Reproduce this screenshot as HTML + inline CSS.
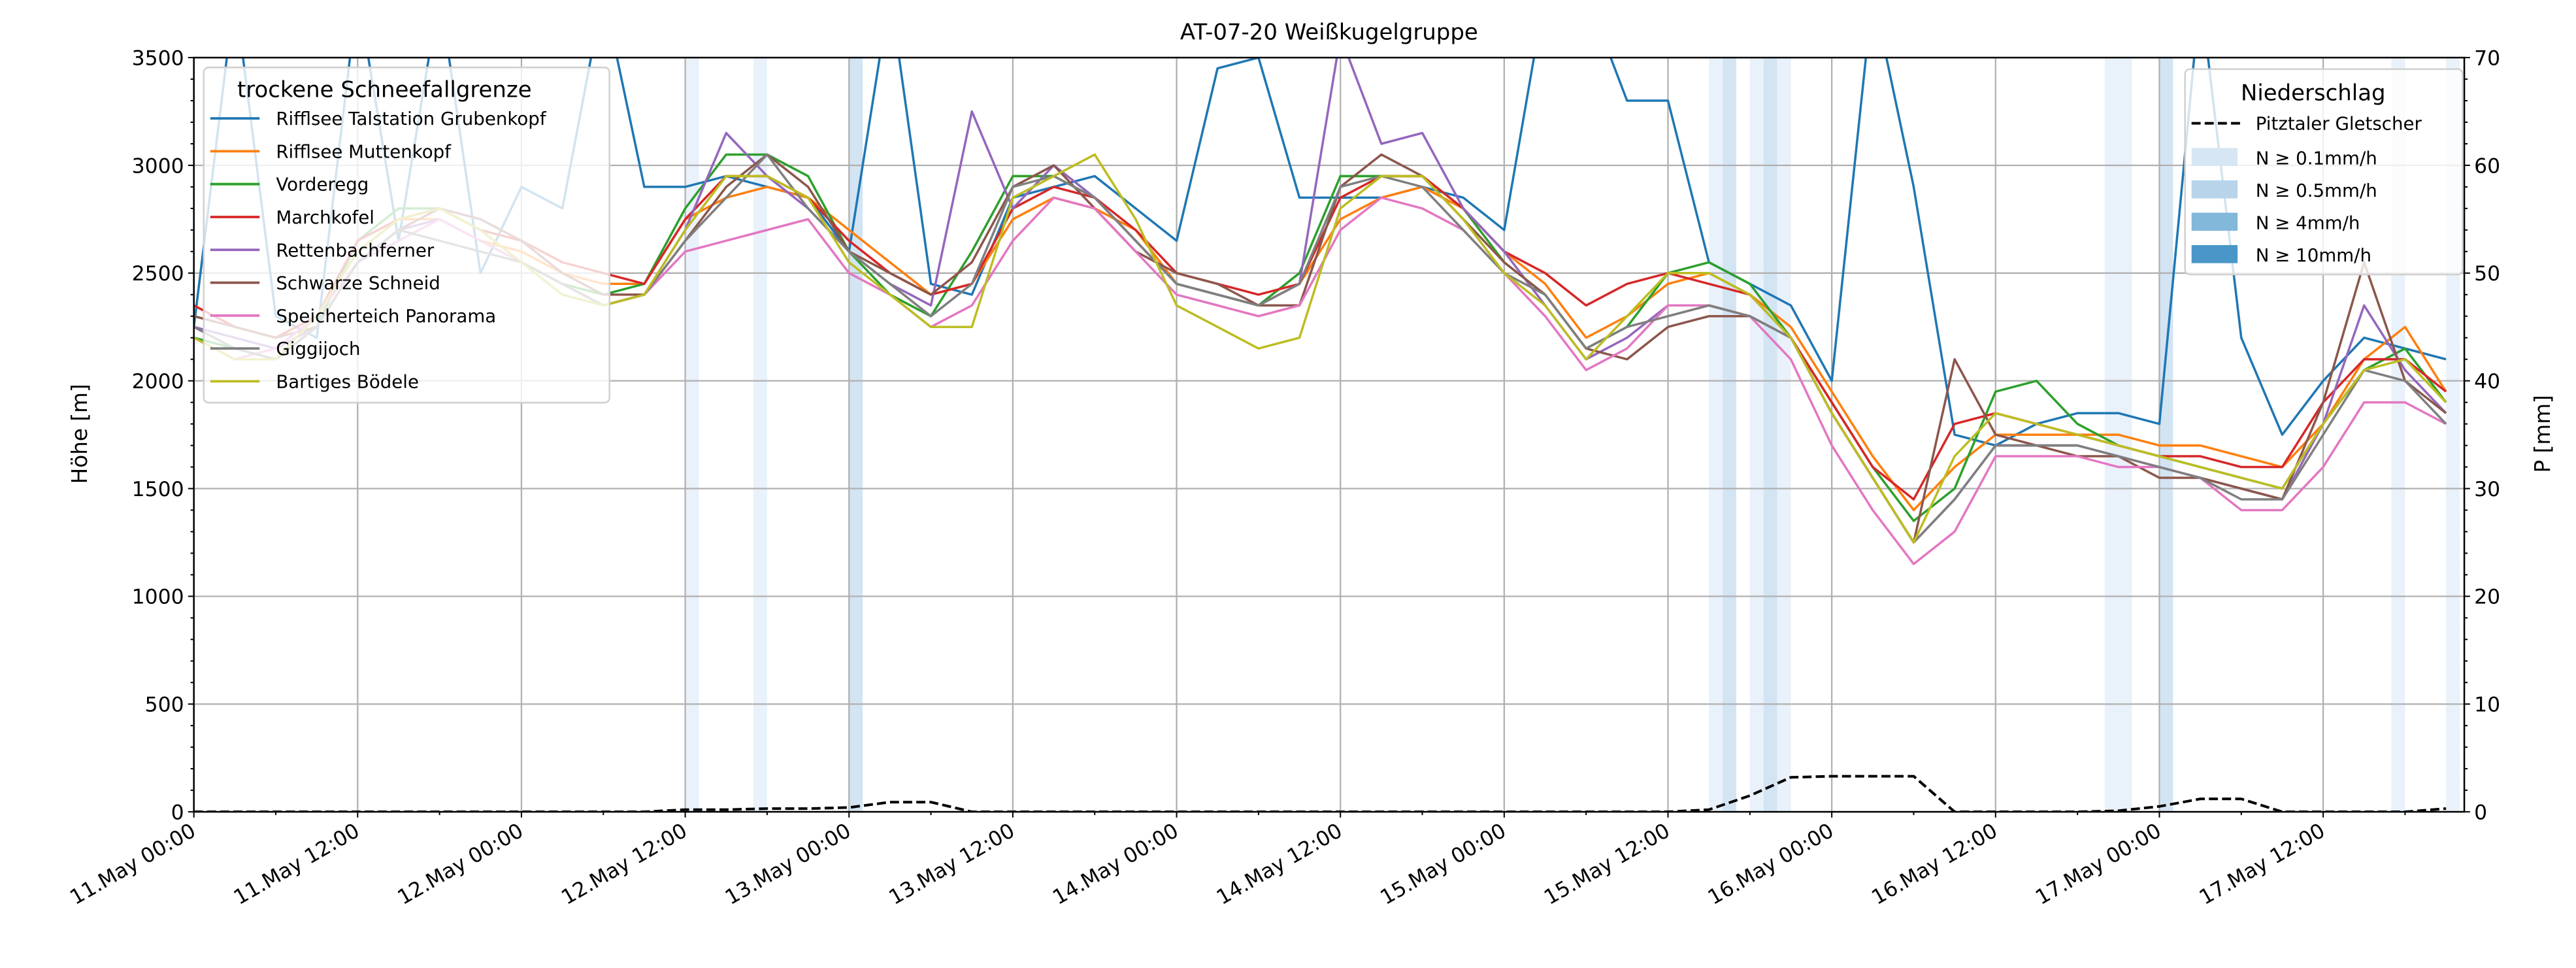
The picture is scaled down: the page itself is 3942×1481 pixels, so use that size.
<!DOCTYPE html>
<html><head><meta charset="utf-8">
<style>
html,body{margin:0;padding:0;background:#fff;}
svg{display:block;font-family:"DejaVu Sans","Liberation Sans",sans-serif;}
</style></head>
<body>
<svg id="chart" width="3942" height="1481" viewBox="0 0 1568 589" xmlns="http://www.w3.org/2000/svg">
<defs><clipPath id="plotclip"><rect x="118" y="35" width="1382" height="459"/></clipPath></defs>
<rect x="0" y="0" width="1568" height="589" fill="#fff"/>
<text x="809" y="24" font-size="13.5" text-anchor="middle">AT-07-20 Weißkugelgruppe</text>
<g id="bands" clip-path="url(#plotclip)"></g>
<g id="grid"></g>
<g id="series" clip-path="url(#plotclip)"></g>
<g id="axes"></g>
<g id="legends"></g>
<text transform="translate(53,264) rotate(-90)" font-size="13" text-anchor="middle">Höhe [m]</text>
<text transform="translate(1552,264) rotate(-90)" font-size="13" text-anchor="middle">P [mm]</text>
</svg>
<script>
const hours = [0,3,6,9,12,15,18,21,24,27,30,33,36,39,42,45,48,51,54,57,60,63,66,69,72,75,78,81,84,87,90,93,96,99,102,105,108,111,114,117,120,123,126,129,132,135,138,141,144,147,150,153,156,159,162,165];
const stationNames = ["Rifflsee Talstation Grubenkopf","Rifflsee Muttenkopf","Vorderegg","Marchkofel","Rettenbachferner","Schwarze Schneid","Speicherteich Panorama","Giggijoch","Bartiges Bödele"];
const sTalstation = [2250,3800,2300,2200,3800,2650,3800,2500,2900,2800,3800,2900,2900,2950,2900,2850,2600,3800,2450,2400,2850,2900,2950,2800,2650,3450,3500,2850,2850,2850,2900,2850,2700,3800,3800,3300,3300,2550,2450,2350,2000,3800,2900,1750,1700,1800,1850,1850,1800,3800,2200,1750,2000,2200,2150,2100];
const sMuttenkopf = [2350,2250,2200,2300,2600,2750,2750,2650,2600,2500,2450,2450,2750,2850,2900,2850,2700,2550,2400,2450,2750,2850,2800,2700,2450,2400,2350,2450,2750,2850,2900,2800,2600,2450,2200,2300,2450,2500,2400,2250,1950,1650,1400,1600,1750,1750,1750,1750,1700,1700,1650,1600,1800,2100,2250,1950];
const sVorderegg = [2200,2150,2100,2250,2650,2800,2800,2700,2550,2450,2400,2450,2800,3050,3050,2950,2600,2400,2300,2600,2950,2950,2850,2650,2450,2400,2350,2500,2950,2950,2950,2800,2550,2400,2150,2250,2500,2550,2450,2200,1900,1600,1350,1500,1950,2000,1800,1700,1650,1600,1550,1500,1800,2050,2150,1900];
const sMarchkofel = [2350,2250,2200,2300,2650,2750,2800,2700,2650,2550,2500,2450,2750,2950,2950,2850,2650,2500,2400,2450,2800,2900,2850,2700,2500,2450,2400,2450,2850,2950,2950,2800,2600,2500,2350,2450,2500,2450,2400,2200,1900,1600,1450,1800,1850,1800,1750,1700,1650,1650,1600,1600,1900,2100,2100,1950];
const sRettenbach = [2250,2200,2150,2250,2550,2700,2750,2650,2550,2450,2350,2400,2700,3150,2950,2800,2600,2450,2350,3250,2800,3000,2850,2650,2450,2400,2350,2450,3600,3100,3150,2800,2600,2350,2100,2200,2350,2350,2300,2200,1850,1550,1250,1450,1700,1700,1700,1650,1600,1550,1500,1450,1800,2350,2050,1850];
const sSchwarze = [2300,2250,2200,2250,2550,2700,2800,2750,2650,2500,2400,2400,2650,2900,3050,2900,2600,2500,2400,2550,2900,3000,2800,2600,2500,2450,2350,2350,2900,3050,2950,2750,2550,2400,2150,2100,2250,2300,2300,2200,1850,1550,1250,2100,1750,1700,1650,1650,1550,1550,1500,1450,1900,2550,2000,1850];
const sSpeicher = [2200,2100,2150,2300,2550,2650,2750,2650,2550,2450,2350,2400,2600,2650,2700,2750,2500,2400,2250,2350,2650,2850,2800,2600,2400,2350,2300,2350,2700,2850,2800,2700,2500,2300,2050,2150,2350,2350,2300,2100,1700,1400,1150,1300,1650,1650,1650,1600,1600,1550,1400,1400,1600,1900,1900,1800];
const sGiggijoch = [2250,2150,2100,2250,2550,2700,2650,2600,2550,2450,2350,2400,2650,2850,3050,2800,2600,2450,2300,2450,2900,2950,2850,2650,2450,2400,2350,2450,2900,2950,2900,2700,2500,2400,2150,2250,2300,2350,2300,2200,1850,1550,1250,1450,1700,1700,1700,1650,1600,1550,1450,1450,1750,2050,2000,1800];
const sBoedele = [2200,2100,2100,2300,2600,2750,2800,2700,2550,2400,2350,2400,2700,2950,2950,2850,2550,2400,2250,2250,2850,2950,3050,2750,2350,2250,2150,2200,2800,2950,2950,2750,2500,2350,2100,2300,2500,2500,2400,2200,1850,1550,1250,1650,1850,1800,1750,1700,1650,1600,1550,1500,1800,2050,2100,1900];
const precip = [0,0,0,0,0,0,0,0,0,0,0,0,0.2,0.2,0.3,0.3,0.4,0.9,0.9,0,0,0,0,0,0,0,0,0,0,0,0,0,0,0,0,0,0,0.2,1.5,3.2,3.3,3.3,3.3,0,0,0,0,0.1,0.5,1.2,1.2,0,0,0,0,0.3];
const bandStart = [36,41,48,111,112,114,115,116,140,144,161,165];
const bandEnd   = [37,42,49,112,113,115,116,117,142,145,162,166];
const bandLevel = [0,0,1,0,1,0,1,0,0,1,0,0];
const xTickLabels = ["11.May 00:00","11.May 12:00","12.May 00:00","12.May 12:00","13.May 00:00","13.May 12:00","14.May 00:00","14.May 12:00","15.May 00:00","15.May 12:00","16.May 00:00","16.May 12:00","17.May 00:00","17.May 12:00"];
const yTicks = [0,500,1000,1500,2000,2500,3000,3500];
const y2Ticks = [0,10,20,30,40,50,60,70];

const colors = ["#1f77b4","#ff7f0e","#2ca02c","#d62728","#9467bd","#8c564b","#e377c2","#7f7f7f","#bcbd22"];
const allSeries = [sTalstation,sMuttenkopf,sVorderegg,sMarchkofel,sRettenbach,sSchwarze,sSpeicher,sGiggijoch,sBoedele];
const L=118,R=1500,T=35,B=494;
const X = h => L + h*(99.7/12);
const Y = v => B - v*(B-T)/3500;
const Y2 = v => B - v*(B-T)/70;
const NS="http://www.w3.org/2000/svg";
function mk(tag, attrs, parent){const e=document.createElementNS(NS,tag);for(const k in attrs)e.setAttribute(k,attrs[k]);parent.appendChild(e);return e;}
const gB=document.getElementById('bands'),gG=document.getElementById('grid'),gS=document.getElementById('series'),gA=document.getElementById('axes'),gL=document.getElementById('legends');
const bandCols=["#e9f1fa","#d3e4f3"];
bandStart.forEach((s,i)=>{
  const r=mk('rect',{x:X(s),y:T,width:X(bandEnd[i])-X(s),height:B-T,fill:bandCols[bandLevel[i]]},gB);
  
  
});
xTickLabels.forEach((t,i)=>{const g=mk('line',{x1:X(i*12),x2:X(i*12),y1:T,y2:B,stroke:'#b0b0b0','stroke-width':0.9},gG);
  
  });
yTicks.forEach(v=>{const g=mk('line',{x1:L,x2:R,y1:Y(v),y2:Y(v),stroke:'#b0b0b0','stroke-width':0.9},gG);
  
  });
allSeries.forEach((s,k)=>{
  const p=mk('polyline',{points:s.map((v,i)=>X(hours[i])+','+Y(v)).join(' '),fill:'none',stroke:colors[k],'stroke-width':1.4,'stroke-linejoin':'round'},gS);
  
  
});
const pl=mk('polyline',{points:precip.map((v,i)=>X(hours[i])+','+Y2(v)).join(' '),fill:'none',stroke:'#000','stroke-width':1.6,'stroke-dasharray':'5.5,2.5'},gS);


const fr=mk('rect',{x:L,y:T,width:R-L,height:B-T,fill:'none',stroke:'#000','stroke-width':1},gA);


for(let v=0;v<=3500;v+=100){mk('line',{x1:L,x2:L-(v%500?2:3.5),y1:Y(v),y2:Y(v),stroke:'#000','stroke-width':0.8},gA);}
for(let v=0;v<=70;v+=2){mk('line',{x1:R,x2:R+(v%10?2:3.5),y1:Y2(v),y2:Y2(v),stroke:'#000','stroke-width':0.8},gA);}
for(let h=0;h<=166;h+=6){mk('line',{x1:X(h),x2:X(h),y1:B,y2:B+(h%12?2:3.5),stroke:'#000','stroke-width':0.8},gA);}
yTicks.forEach(v=>{const t=mk('text',{x:L-6,y:Y(v)+4.5,'font-size':12.5,'text-anchor':'end'},gA);t.textContent=v;
  
  });
y2Ticks.forEach(v=>{const t=mk('text',{x:R+6,y:Y2(v)+4.5,'font-size':12.5},gA);t.textContent=v;
  
  });
xTickLabels.forEach((s,i)=>{const t=mk('text',{transform:`translate(${X(i*12)+2},${B+14}) rotate(-30)`,'font-size':12.5,'text-anchor':'end'},gA);t.textContent=s;
  
  });
const lb=mk('rect',{x:124,y:41,width:247,height:204,rx:3,fill:'#fff','fill-opacity':0.8,stroke:'#d0d0d0','stroke-width':1},gL);


const lt=mk('text',{x:234,y:59,'font-size':13.5,'text-anchor':'middle'},gL);lt.textContent='trockene Schneefallgrenze';


stationNames.forEach((n,k)=>{const y=75+k*20;
  mk('line',{x1:128,x2:158,y1:y-3,y2:y-3,stroke:colors[k],'stroke-width':1.5},gL);
  const t=mk('text',{x:168,y:y+1,'font-size':11},gL);t.textContent=n;
  
  });
const lb2=mk('rect',{x:1330,y:42,width:169,height:125,rx:3,fill:'#fff','fill-opacity':0.8,stroke:'#d0d0d0','stroke-width':1},gL);


const lt2=mk('text',{x:1408,y:61,'font-size':13.5,'text-anchor':'middle'},gL);lt2.textContent='Niederschlag';


mk('line',{x1:1334,x2:1364,y1:75,y2:75,stroke:'#000','stroke-width':1.6,'stroke-dasharray':'5.5,2.5'},gL);
const pt=mk('text',{x:1373,y:79,'font-size':11},gL);pt.textContent='Pitztaler Gletscher';


const patchCols=["#d6e6f4","#b7d4ea","#82b8d9","#4a96c8"];
const patchLabels=["N ≥ 0.1mm/h","N ≥ 0.5mm/h","N ≥ 4mm/h","N ≥ 10mm/h"];
patchLabels.forEach((s,i)=>{const y=96+i*19.7;
  mk('rect',{x:1334,y:y-6,width:28,height:11,fill:patchCols[i]},gL);
  const t=mk('text',{x:1373,y:y+4,'font-size':11},gL);t.textContent=s;
  
  });
</script>
</body></html>
